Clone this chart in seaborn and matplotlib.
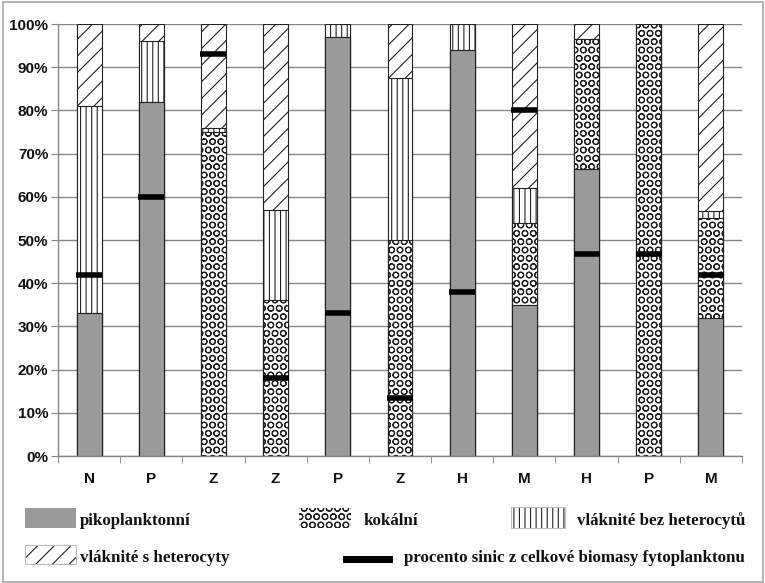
import matplotlib
matplotlib.use('Agg')
import matplotlib.pyplot as plt
from matplotlib.patches import Rectangle
import seaborn as sns
import pandas as pd

# Sites (x labels) and share of each cyanobacteria group in %
sites = ['N', 'P', 'Z', 'Z', 'P', 'Z', 'H', 'M', 'H', 'P', 'M']
pico = [33, 82, 0, 0, 97, 0, 94, 35, 66.5, 0, 32]
kok = [0, 0, 75, 36, 0, 50, 0, 19, 30, 100, 23]
bez = [48, 14, 1, 21, 3, 37.5, 6, 8, 0, 0, 1.7]
het = [19, 4, 24, 43, 0, 12.5, 0, 38, 3.5, 0, 43.3]
# percent of cyanobacteria in total phytoplankton biomass
sinice = [42, 60, 93, 18, 33, 13.5, 38, 80, 46.7, 46.7, 42]

labels = ['pikoplanktonní', 'kokální', 'vláknité bez heterocytů',
          'vláknité s heterocyty', 'procento sinic z celkové biomasy fytoplanktonu']

sns.set_style('white')
plt.rcParams['font.family'] = ['Liberation Sans', 'DejaVu Sans']
plt.rcParams['hatch.linewidth'] = 0.8

df = pd.DataFrame({'pos': range(len(sites)), 'pico': pico, 'kok': kok,
                   'bez': bez, 'het': het, 'sinice': sinice})
# cumulative tops for the stacked look (drawn from the tallest down)
df['c1'] = df['pico']
df['c2'] = df['c1'] + df['kok']
df['c3'] = df['c2'] + df['bez']
df['c4'] = df['c3'] + df['het']

W, H = 765, 583
fig = plt.figure(figsize=(W / 100, H / 100), dpi=100)
ax = fig.add_axes([58 / W, 1 - 456 / H, (742 - 58) / W, (456 - 24) / H])

grey = '#9a9a9a'
edge = '#222222'
layers = [('c4', 'white', '//'), ('c3', 'white', '|||'),
          ('c2', 'white', 'OO'), ('c1', grey, None)]
for col, fc, h in layers:
    sns.barplot(data=df, x='pos', y=col, color=fc, hatch=h, edgecolor=edge,
                linewidth=0.8, width=0.4, saturation=1, ax=ax)

sns.scatterplot(data=df, x='pos', y='sinice', marker='_', s=360, linewidth=4,
                color='black', edgecolor='black', zorder=5, legend=False, ax=ax)

ax.set_xlim(-0.5, len(sites) - 0.5)
ax.set_ylim(0, 100)
ax.set_yticks(range(0, 101, 10))
ax.set_yticklabels([f'{v}%' for v in range(0, 101, 10)], fontsize=11, fontweight='bold')
ax.set_xticks(range(len(sites)))
ax.set_xticklabels(sites, fontsize=11, fontweight='bold')
ax.set_xticks([i - 0.5 for i in range(len(sites) + 1)], minor=True)
ax.set_xlabel('')
ax.set_ylabel('')

gc = '#858585'
ax.yaxis.grid(True, color=gc, linewidth=1)
ax.set_axisbelow(True)
for s in ['top', 'right']:
    ax.spines[s].set_visible(False)
for s in ['left', 'bottom']:
    ax.spines[s].set_color(gc)
    ax.spines[s].set_linewidth(1)
ax.tick_params(axis='y', left=True, length=5, color=gc, pad=2, labelcolor='#111111')
ax.tick_params(axis='x', which='major', bottom=False, pad=8, labelcolor='#111111')
ax.tick_params(axis='x', which='minor', bottom=True, length=5, color=gc)

# hand-placed legend under the plot (pixel coordinates of the image)
def legend_box(x0, y0, x1, y1, fc, hatch=None, border=False):
    fig.add_artist(Rectangle((x0 / W, 1 - y1 / H), (x1 - x0) / W, (y1 - y0) / H,
                             transform=fig.transFigure, facecolor=fc,
                             edgecolor=edge, hatch=hatch, linewidth=0))
    if border:
        fig.add_artist(Rectangle((x0 / W, 1 - y1 / H), (x1 - x0) / W, (y1 - y0) / H,
                                 transform=fig.transFigure, fill=False,
                                 edgecolor='#bbbbbb', linewidth=0.8))

def legend_text(x, y, txt):
    fig.text(x / W, 1 - y / H, txt, fontfamily='Liberation Serif', fontweight='bold',
             fontsize=12.2, va='center', ha='left', color='#111111')

legend_box(25, 508, 76, 528, grey)
legend_text(80, 521, labels[0])
legend_box(299, 508, 351, 528, 'white', 'OO')
legend_text(364, 521, labels[1])
legend_box(511, 507, 565, 528, 'white', '|||', border=True)
legend_text(577, 521, labels[2])
legend_box(25, 545, 76, 564, 'white', '//', border=True)
legend_text(80, 558, labels[3])
legend_box(343, 556, 393, 563, 'black')
legend_text(404, 558, labels[4])

# grey frame round the whole picture
fig.add_artist(Rectangle((3 / W, 1.5 / H), 760 / W, 580 / H, transform=fig.transFigure,
                         fill=False, edgecolor='#a8a8a8', linewidth=1.2))

fig.savefig('out.png', dpi=100, facecolor='white')
